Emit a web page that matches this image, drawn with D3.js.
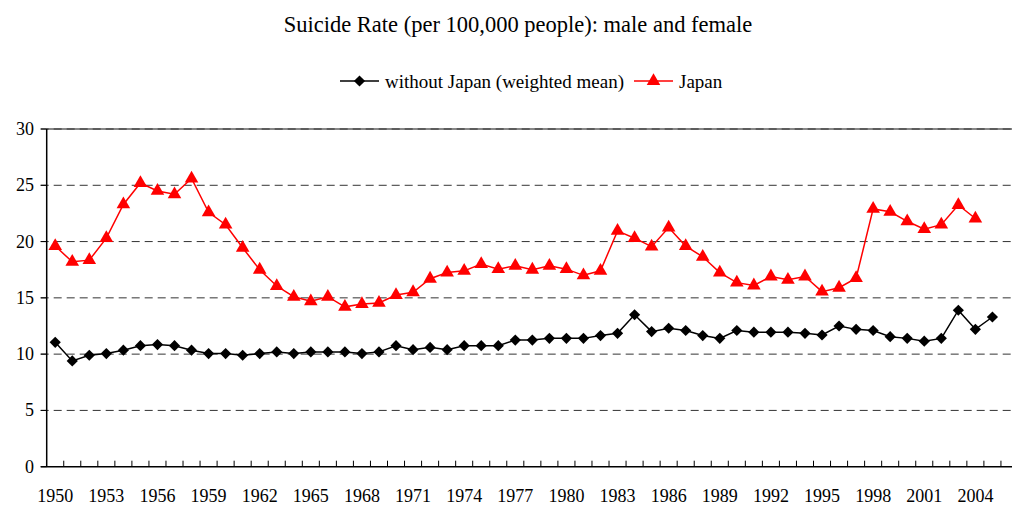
<!DOCTYPE html>
<meta charset="utf-8">
<html>
  <head>
    <title>Suicide Rate</title>
    <script src="https://d3js.org/d3.v7.min.js"></script>
    <style>
      body { margin: 0; background: #fff; }
      text { font-family: "Liberation Serif", "Times New Roman", serif; fill: #000; }
      .grid line { stroke: #333; stroke-width: 1; stroke-dasharray: 8,5; }
    </style>
  </head>
  <body>
    <svg id="chart" width="1012" height="511"></svg>
    <script>
      // years shown on the category axis
      const years = d3.range(1950, 2007);
      const yearLabels = d3.range(1950, 2005, 3);
      const yTicks = [0, 5, 10, 15, 20, 25, 30];

      // without Japan (weighted mean), 1950..2005
      const withoutJapan = [
        11.05, 9.4, 9.9, 10.05, 10.35, 10.75, 10.85, 10.75, 10.35, 10.05,
        10.05, 9.9, 10.05, 10.2, 10.05, 10.2, 10.2, 10.2, 10.05, 10.2,
        10.75, 10.4, 10.6, 10.4, 10.75, 10.75, 10.75, 11.25, 11.25, 11.4,
        11.4, 11.4, 11.65, 11.85, 13.5, 12.0, 12.3, 12.1, 11.65, 11.4,
        12.1, 11.95, 11.95, 11.95, 11.85, 11.7, 12.5, 12.2, 12.1, 11.55,
        11.4, 11.15, 11.4, 13.9, 12.2, 13.3
      ];
      // Japan, 1950..2004
      const japan = [
        19.6, 18.2, 18.35, 20.3, 23.3, 25.2, 24.5, 24.2, 25.6, 22.6,
        21.5, 19.45, 17.5, 16.05, 15.1, 14.7, 15.1, 14.2, 14.45, 14.55,
        15.25, 15.5, 16.7, 17.25, 17.4, 18.0, 17.55, 17.85, 17.5, 17.85,
        17.55, 17.0, 17.4, 20.95, 20.3, 19.55, 21.25, 19.6, 18.65, 17.25,
        16.35, 16.1, 16.9, 16.6, 16.9, 15.55, 15.9, 16.75, 22.9, 22.65,
        21.8, 21.1, 21.5, 23.25, 22.05
      ];

      const svg = d3.select("#chart");
      const plotLeft = 46.7, plotTop = 129, plotBottom = 466.7;
      const bandW = 17.04;

      const x = d3.scaleBand()
                  .domain(years)
                  .range([plotLeft, plotLeft + years.length * bandW])
                  .padding(0);
      const y = d3.scaleLinear().domain([0, 30]).range([plotBottom, plotTop]);
      const cx = yr => x(yr) + x.bandwidth() / 2;

      // title
      svg.append("text")
         .attr("x", 518).attr("y", 32)
         .attr("text-anchor", "middle")
         .style("font-size", "22.5px")
         .text("Suicide Rate (per 100,000 people): male and female");

      // grid lines
      svg.append("line")
         .attr("x1", plotLeft).attr("x2", 1012)
         .attr("y1", plotTop).attr("y2", plotTop)
         .attr("stroke", "#888").attr("stroke-width", 2);
      svg.append("g").attr("class", "grid")
         .selectAll("line")
         .data(yTicks.filter(d => d > 0))
         .join("line")
           .attr("x1", plotLeft - 6).attr("x2", 1012)
           .attr("y1", d => y(d)).attr("y2", d => y(d));

      // y axis
      svg.append("line")
         .attr("x1", plotLeft).attr("x2", plotLeft)
         .attr("y1", plotTop).attr("y2", plotBottom)
         .attr("stroke", "#000").attr("stroke-width", 1.5);
      svg.append("g").selectAll("text")
         .data(yTicks)
         .join("text")
           .attr("x", 34).attr("y", d => y(d) + 6)
           .attr("text-anchor", "end")
           .style("font-size", "18px")
           .text(d => d);
      svg.append("g").selectAll("line")
         .data(yTicks)
         .join("line")
           .attr("x1", plotLeft - 6).attr("x2", plotLeft)
           .attr("y1", d => y(d)).attr("y2", d => y(d))
           .attr("stroke", "#000");

      // x axis
      svg.append("line")
         .attr("x1", plotLeft - 6).attr("x2", 1012)
         .attr("y1", plotBottom).attr("y2", plotBottom)
         .attr("stroke", "#000").attr("stroke-width", 1.5);
      svg.append("g").selectAll("line")
         .data(years)
         .join("line")
           .attr("x1", d => x(d) + bandW).attr("x2", d => x(d) + bandW)
           .attr("y1", plotBottom - 6).attr("y2", plotBottom)
           .attr("stroke", "#000");
      svg.append("g").selectAll("text")
         .data(yearLabels)
         .join("text")
           .attr("x", d => cx(d)).attr("y", 502)
           .attr("text-anchor", "middle")
           .style("font-size", "18px")
           .text(d => d);

      const line = d3.line().x(d => cx(d.year)).y(d => y(d.v));
      const blackData = withoutJapan.map((v, i) => ({ year: 1950 + i, v }));
      const redData = japan.map((v, i) => ({ year: 1950 + i, v }));

      const diamond = d3.symbol().type(d3.symbolDiamond2).size(80);
      const triangle = d3.symbol().type(d3.symbolTriangle).size(80);

      svg.append("path").datum(blackData)
         .attr("d", line).attr("fill", "none")
         .attr("stroke", "#000").attr("stroke-width", 1.5);
      svg.append("g").selectAll("path")
         .data(blackData)
         .join("path")
           .attr("d", diamond)
           .attr("transform", d => `translate(${cx(d.year)},${y(d.v)})`)
           .attr("fill", "#000");

      svg.append("path").datum(redData)
         .attr("d", line).attr("fill", "none")
         .attr("stroke", "#f00").attr("stroke-width", 1.5);
      svg.append("g").selectAll("path")
         .data(redData)
         .join("path")
           .attr("d", triangle)
           .attr("transform", d => `translate(${cx(d.year)},${y(d.v)})`)
           .attr("fill", "#f00");

      // legend
      const legend = svg.append("g");
      const items = [
        { name: "without Japan (weighted mean)", color: "#000", sym: diamond, x: 340 },
        { name: "Japan", color: "#f00", sym: triangle, x: 634 }
      ];
      items.forEach(it => {
        legend.append("line")
              .attr("x1", it.x).attr("x2", it.x + 39)
              .attr("y1", 81).attr("y2", 81)
              .attr("stroke", it.color).attr("stroke-width", 1.5);
        legend.append("path")
              .attr("d", it.sym)
              .attr("transform", `translate(${it.x + 19.5},81)`)
              .attr("fill", it.color);
        legend.append("text")
              .attr("x", it.x + 45).attr("y", 87.5)
              .style("font-size", "19px")
              .text(it.name);
      });
    </script>
  </body>
</html>
